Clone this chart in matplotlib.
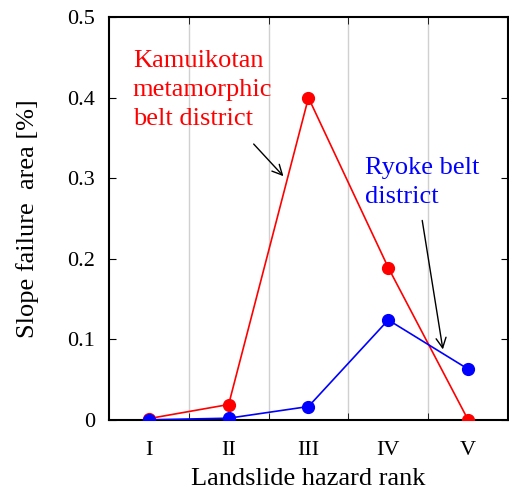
import numpy as np
import matplotlib
matplotlib.use('Agg')
import matplotlib.pyplot as plt

ranks = ['I', 'II', 'III', 'IV', 'V']
kamuikotan = [0.0015, 0.019, 0.400, 0.189, 0.0]
ryoke = [0.0, 0.002, 0.0165, 0.124, 0.063]

plt.rcParams['font.family'] = ['Liberation Serif', 'DejaVu Serif']

fig = plt.figure(figsize=(5.09, 4.91), dpi=100)
ax = fig.add_axes([0.214, 0.145, 0.784, 0.82])

x = np.arange(1, len(ranks) + 1)
ax.plot(x, kamuikotan, color='red', lw=1.2, marker='o', ms=8.5, zorder=3)
ax.plot(x, ryoke, color='blue', lw=1.2, marker='o', ms=8.5, zorder=4)

ax.set_xlim(0.5, 5.5)
ax.set_ylim(0, 0.5)
ax.set_xticks(x)
ax.set_xticklabels(ranks)
ax.set_xticks(x[:-1] + 0.5, minor=True)
ax.set_yticks([0, 0.1, 0.2, 0.3, 0.4, 0.5])
ax.set_yticklabels(['0', '0.1', '0.2', '0.3', '0.4', '0.5'])
ax.tick_params(axis='x', which='major', length=0, pad=15, labelsize=16)
ax.tick_params(axis='x', which='minor', direction='in', length=5, top=True, bottom=True)
ax.tick_params(axis='y', direction='in', length=5, right=True, labelsize=16, pad=10)
ax.grid(True, axis='x', which='minor', color='#d0d0d0', lw=1)
for s in ax.spines.values():
    s.set_linewidth(1.5)

ax.set_xlabel('Landslide hazard rank', fontsize=19, labelpad=6)
ax.set_ylabel('Slope failure  area [%]', fontsize=19, labelpad=20)

ax.text(0.80, 0.459, 'Kamuikotan\nmetamorphic\nbelt district', color='red',
        fontsize=19, linespacing=1.42, va='top', ha='left')
ax.annotate('', xy=(2.71, 0.300), xytext=(2.29, 0.345),
            arrowprops=dict(arrowstyle='->', color='black', lw=1, mutation_scale=18))
ax.text(3.71, 0.326, 'Ryoke belt\ndistrict', color='blue',
        fontsize=19, linespacing=1.42, va='top', ha='left')
ax.annotate('', xy=(4.69, 0.084), xytext=(4.42, 0.251),
            arrowprops=dict(arrowstyle='->', color='black', lw=1, mutation_scale=18))

fig.savefig('out.png', dpi=100)
